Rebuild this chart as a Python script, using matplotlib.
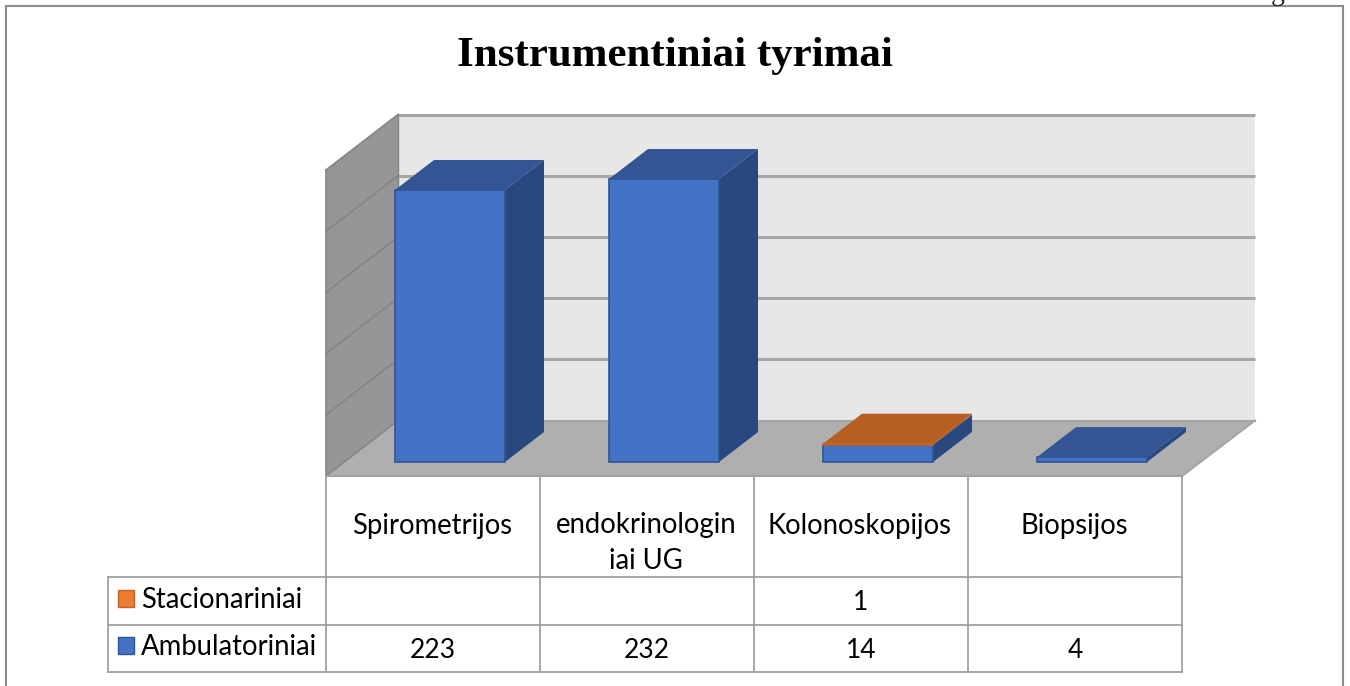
import matplotlib
matplotlib.use("Agg")
import matplotlib.pyplot as plt
from matplotlib.patches import Polygon, Rectangle

categories = ["Spirometrijos", "endokrinologin\niai UG", "Kolonoskopijos", "Biopsijos"]
series_names = ["Stacionariniai", "Ambulatoriniai"]
stacionariniai = [None, None, 1, None]
ambulatoriniai = [223, 232, 14, 4]
title = "Instrumentiniai tyrimai"
corner_note = "9 diagrama"
n_gridlines = 5

BLUE, BLUE_TOP, BLUE_SIDE, BLUE_EDGE = "#4472C4", "#335593", "#2A4880", "#2F5597"
ORANGE, ORANGE_TOP, ORANGE_SIDE = "#ED7D31", "#B55F22", "#A85A20"
GRID = "#A6A6A6"
LINE = "#A0A0A0"

fig = plt.figure(figsize=(13.5, 6.86), dpi=100)
ax = fig.add_axes([0, 0, 1, 1])
ax.set_xlim(0, 1350)
ax.set_ylim(686, 0)
ax.axis("off")

# outer frame
ax.add_patch(Rectangle((6, 6), 1336.5, 690, fc="white", ec="#8C8C8C", lw=1.5, zorder=0))
ax.text(1341, 0, corner_note, ha="right", va="baseline", fontsize=20,
        family="Liberation Serif", color="#222222", zorder=6)
ax.text(675, 56, title, ha="center", va="center", fontsize=31, fontweight="bold",
        family="Liberation Serif", color="black")

# chart geometry
col_x = [326, 540, 754, 968, 1182]
base_y, top_y = 476, 170
dx, dy = 72, -55.5
ppu = 272 / 223  # pixels per value unit
bar_off, bar_w = 69, 110
bar_y = 462
bdx, bdy = 39, -30

ax.add_patch(Polygon([(col_x[0] + dx, top_y + dy), (1255, top_y + dy), (1255, base_y + dy),
                      (col_x[0] + dx, base_y + dy)], fc="#E7E7E7", ec="none", zorder=1))
ax.add_patch(Polygon([(col_x[0], top_y), (col_x[0] + dx, top_y + dy), (col_x[0] + dx, base_y + dy),
                      (col_x[0], base_y)], fc="#969696", ec="none", zorder=1))
ax.add_patch(Polygon([(col_x[0], base_y), (col_x[0] + dx, base_y + dy), (1255, base_y + dy),
                      (col_x[-1], base_y)], fc="#AFAFAF", ec="none", zorder=1))

for i in range(n_gridlines + 1):
    f = i / n_gridlines
    yf = base_y + (top_y - base_y) * f
    yb = yf + dy
    if i > 0:
        ax.plot([col_x[0] + dx, 1255], [yb, yb], color=GRID, lw=2.2, zorder=2,
                solid_capstyle="butt")
    ax.plot([col_x[0], col_x[0] + dx], [yf, yb], color="#858585", lw=1.2, zorder=2)
ax.plot([col_x[-1], 1255], [base_y, base_y + dy], color=GRID, lw=1.5, zorder=2)
ax.plot([col_x[0] + dx, 1255], [base_y + dy] * 2, color=GRID, lw=1.5, zorder=2)
ax.plot([col_x[0], col_x[0]], [top_y, base_y], color="#858585", lw=1.2, zorder=2)
ax.plot([col_x[0] + dx, col_x[0] + dx], [top_y + dy, base_y + dy], color="#858585", lw=1, zorder=2)


def box(x, y0, y1, front, top, side, edge, z, show_top=True):
    ax.add_patch(Polygon([(x + bar_w, y0), (x + bar_w + bdx, y0 + bdy), (x + bar_w + bdx, y1 + bdy),
                          (x + bar_w, y1)], fc=side, ec="none", zorder=z))
    if show_top:
        ax.add_patch(Polygon([(x, y1), (x + bdx, y1 + bdy), (x + bar_w + bdx, y1 + bdy), (x + bar_w, y1)],
                             fc=top, ec="none", zorder=z))
    ax.add_patch(Rectangle((x, y1), bar_w, y0 - y1, fc=front, ec=edge, lw=1.2, zorder=z + 0.1))


for i, (a, s) in enumerate(zip(ambulatoriniai, stacionariniai)):
    x = col_x[i] + bar_off
    ya = bar_y - a * ppu
    box(x, bar_y, ya, BLUE, BLUE_TOP, BLUE_SIDE, BLUE_EDGE, 3 + i, show_top=s is None)
    if s is not None:
        ys = ya - s * ppu
        box(x, ya, ys, ORANGE, ORANGE_TOP, ORANGE_SIDE, "#C0632A", 3.5 + i)

# data table
t_left = 108
row_y = [476, 577, 625, 672]
for x in col_x:
    ax.plot([x, x], [row_y[0], row_y[-1]], color=LINE, lw=1.3, zorder=5)
for y in row_y[1:]:
    ax.plot([t_left, col_x[-1]], [y, y], color=LINE, lw=1.3, zorder=5)
ax.plot([col_x[0], col_x[-1]], [row_y[0]] * 2, color=LINE, lw=1.5, zorder=5)
ax.plot([t_left, t_left], [row_y[1], row_y[-1]], color=LINE, lw=1.3, zorder=5)

FONT = ["Lato", "DejaVu Sans"]
FS = 19.8
for i, c in enumerate(categories):
    cx = (col_x[i] + col_x[i + 1]) / 2 - 1
    ax.text(cx, 526 if "\n" not in c else 543, c, ha="center", va="center", family=FONT,
            fontsize=FS, linespacing=1.45, color="black", zorder=6)

rows = [(stacionariniai, 601, ORANGE, "#C0632A"), (ambulatoriniai, 648, BLUE, BLUE_EDGE)]
for name, (vals, y, col, ec) in zip(series_names, rows):
    ax.add_patch(Rectangle((118, y - 11), 16, 17, fc=col, ec=ec, lw=1, zorder=6))
    ax.text(141, y - 1, name, ha="left", va="center", family=FONT, fontsize=FS, color="black", zorder=6)
    for i, v in enumerate(vals):
        if v is not None:
            cx = (col_x[i] + col_x[i + 1]) / 2
            ax.text(cx, y + 2, str(v), ha="center", va="center", family=FONT, fontsize=FS - 0.8,
                    color="black", zorder=6)

fig.savefig("out.png", dpi=100)
